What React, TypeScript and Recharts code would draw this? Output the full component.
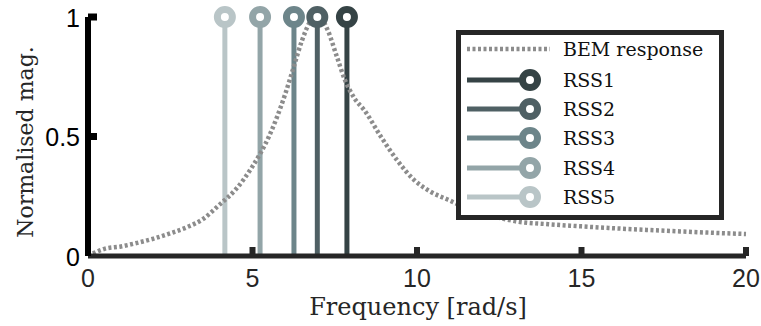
import { ComposedChart, Line, XAxis, YAxis, Legend } from 'recharts'

const bemFreq = [0, 0.5, 1, 1.5, 2, 2.5, 3, 3.5, 4, 4.5, 5, 5.5, 6, 6.25, 6.5, 6.75, 6.9, 7.1, 7.3, 7.55, 7.8, 8.1, 8.4, 8.9, 9.4, 9.9, 10.4, 11, 11.5, 12, 12.5, 13, 14, 15, 16, 17, 18, 19, 20]
const bemMag = [0, 0.03, 0.04, 0.055, 0.073, 0.095, 0.12, 0.155, 0.215, 0.28, 0.375, 0.5, 0.68, 0.79, 0.9, 0.98, 1.0, 0.99, 0.94, 0.84, 0.74, 0.66, 0.61, 0.5, 0.4, 0.32, 0.27, 0.232, 0.2, 0.178, 0.16, 0.145, 0.133, 0.124, 0.116, 0.109, 0.103, 0.097, 0.092]

const rssNames = ['RSS1', 'RSS2', 'RSS3', 'RSS4', 'RSS5']
const rssFreq = [7.87, 6.97, 6.26, 5.23, 4.16]
const rssMag = [1, 1, 1, 1, 1]
const rssColors = ['#354345', '#4f6064', '#6d858a', '#93a5a8', '#b9c5c7']

const xTicks = [0, 5, 10, 15, 20]
const yTicks = [0, 0.5, 1]

const BEM_COLOR = '#8c8c8c'

const bemData = bemFreq.map((f, i) => ({ f, m: bemMag[i] }))
const stemData = rssFreq.map((f, i) => [{ f, m: 0 }, { f, m: rssMag[i] }])

function XTick({ x, y, payload }: any) {
  return (
    <g>
      {payload.value !== 0 && <line x1={x} x2={x} y1={y} y2={y - 9} stroke="#262626" strokeWidth={6} />}
      <text x={x} y={y + 31} textAnchor="middle" fontFamily="Liberation Sans" fontSize={25} fill="#262626">
        {payload.value}
      </text>
    </g>
  )
}

function YTick({ x, y, payload }: any) {
  return (
    <g>
      {payload.value !== 0 && <line x1={x} x2={x + 9} y1={y} y2={y} stroke="#000" strokeWidth={7} />}
      <text x={x - 8} y={y + 9.5} textAnchor="end" fontFamily="Liberation Sans" fontSize={25} fill="#000">
        {payload.value}
      </text>
    </g>
  )
}

function StemDot(color: string) {
  return (props: any) => {
    const { cx, cy, index } = props
    if (index !== 1) return <g key={`d${index}`} />
    return <circle key={`d${index}`} cx={cx} cy={cy} r={7.5} fill="#fff" stroke={color} strokeWidth={7} />
  }
}

function LegendBox() {
  const rows = [14, 45, 74, 103, 133, 162]
  const font = { fontFamily: 'DejaVu Serif', fontSize: 19, fill: '#111' }
  return (
    <div style={{ width: 268, height: 190, boxSizing: 'border-box', border: '5px solid #262626', background: '#fff' }}>
      <svg width={258} height={180} style={{ display: 'block' }}>
        <line x1={6} x2={89} y1={rows[0]} y2={rows[0]} stroke={BEM_COLOR} strokeWidth={4.5} strokeDasharray="3 2.5" />
        <text x={102} y={rows[0] + 7} {...font}>BEM response</text>
        {rssNames.map((name, i) => (
          <g key={name}>
            <line x1={6} x2={69} y1={rows[i + 1]} y2={rows[i + 1]} stroke={rssColors[i]} strokeWidth={5} />
            <circle cx={69} cy={rows[i + 1]} r={7.5} fill="#fff" stroke={rssColors[i]} strokeWidth={7} />
            <text x={102} y={rows[i + 1] + 7} {...font}>{name}</text>
          </g>
        ))}
      </svg>
    </div>
  )
}

export default function App() {
  return (
    <div style={{ position: 'absolute', left: 0, top: 0, width: 761, height: 326, background: '#fff' }}>
      <ComposedChart width={761} height={326} margin={{ top: 17, right: 15, left: 48, bottom: 33 }}>
        <XAxis
          type="number"
          dataKey="f"
          domain={[0, 20]}
          ticks={xTicks}
          tickSize={0}
          tickMargin={0}
          tickLine={false}
          axisLine={{ stroke: '#262626', strokeWidth: 5 }}
          tick={<XTick />}
          height={37}
          interval={0}
          label={{
            content: () => (
              <text x={418} y={315} textAnchor="middle" fontFamily="DejaVu Serif" fontSize={24} fill="#262626">
                Frequency [rad/s]
              </text>
            ),
          }}
        />
        <YAxis
          type="number"
          domain={[0, 1]}
          ticks={yTicks}
          tickSize={0}
          tickMargin={0}
          tickLine={false}
          axisLine={{ stroke: '#000', strokeWidth: 6 }}
          tick={<YTick />}
          width={40}
          interval={0}
          label={{
            content: () => (
              <text
                x={33}
                y={142}
                transform="rotate(-90, 33, 142)"
                textAnchor="middle"
                fontFamily="DejaVu Serif"
                fontSize={22}
                fill="#262626"
              >
                Normalised mag.
              </text>
            ),
          }}
        />
        {stemData.map((d, i) => (
          <Line
            key={rssNames[i]}
            data={d}
            dataKey="m"
            name={rssNames[i]}
            type="linear"
            stroke={rssColors[i]}
            strokeWidth={5}
            dot={StemDot(rssColors[i])}
            activeDot={false}
            isAnimationActive={false}
          />
        ))}
        <Line
          data={bemData}
          dataKey="m"
          name="BEM response"
          type="monotone"
          stroke={BEM_COLOR}
          strokeWidth={4.5}
          strokeDasharray="3 2.5"
          dot={false}
          activeDot={false}
          isAnimationActive={false}
        />
        <Legend
          layout="vertical"
          align="center"
          verticalAlign="middle"
          content={() => <LegendBox />}
          wrapperStyle={{ left: 456, top: 30, width: 268, height: 190 }}
        />
      </ComposedChart>
    </div>
  )
}
